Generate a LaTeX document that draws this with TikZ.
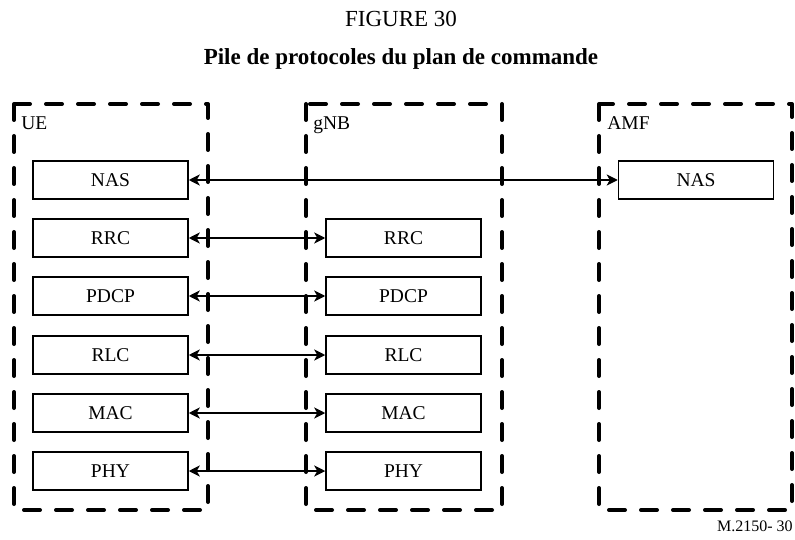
\documentclass[tikz,border=0pt]{standalone}
\usepackage{fontspec}
\setmainfont{Liberation Serif}
\usetikzlibrary{arrows.meta}
\begin{document}
\begin{tikzpicture}[x=0.5pt,y=-0.5pt,
  grp/.style={draw,line width=2pt,dash pattern=on 8pt off 8pt,line cap=round,line join=round},
  layer/.style={draw,line width=0.75pt,minimum width=77.5pt,minimum height=19pt,inner sep=0pt,font=\fontsize{9.75}{12}\selectfont},
  lbl/.style={anchor=base west,inner sep=0pt,font=\fontsize{9.75}{12}\selectfont},
  ttl/.style={anchor=base,inner sep=0pt,font=\fontsize{11.5}{13}\selectfont},
  link/.style={line width=1pt,{Stealth[length=5.5pt,width=5.5pt,inset=1.5pt]}-{Stealth[length=5.5pt,width=5.5pt,inset=1.5pt]}}]
\useasboundingbox (0,0) rectangle (795,539);
% titles
\node[ttl] (t1) at (401,27) {FIGURE 30};
\node[ttl,font=\fontsize{11.5}{13}\selectfont\bfseries] (t2) at (401,65) {Pile de protocoles du plan de commande};
% groups
\draw[grp] (14,104) rectangle (208,510);
\draw[grp] (306,104) rectangle (502,510);
\draw[grp] (599,104) rectangle (792,510);
\node[lbl] (ue) at (21,130) {UE};
\node[lbl] (gnb) at (313,130) {gNB};
\node[lbl] (amf) at (607,130) {AMF};
% layers
\node[layer] (uenas) at (110.5,180) {NAS};
\node[layer] (uerrc) at (110.5,238) {RRC};
\node[layer] (uepdcp) at (110.5,296) {PDCP};
\node[layer] (uerlc) at (110.5,355) {RLC};
\node[layer] (uemac) at (110.5,413) {MAC};
\node[layer] (uephy) at (110.5,471) {PHY};
\node[layer] (grrc) at (403.5,238) {RRC};
\node[layer] (gpdcp) at (403.5,296) {PDCP};
\node[layer] (grlc) at (403.5,355) {RLC};
\node[layer] (gmac) at (403.5,413) {MAC};
\node[layer] (gphy) at (403.5,471) {PHY};
\node[layer] (anas) at (696,180) {NAS};
% links
\draw[link] (uenas) -- (anas);
\draw[link] (uerrc) -- (grrc);
\draw[link] (uepdcp) -- (gpdcp);
\draw[link] (uerlc) -- (grlc);
\draw[link] (uemac) -- (gmac);
\draw[link] (uephy) -- (gphy);
\node[anchor=base east,inner sep=0pt,font=\fontsize{8}{9}\selectfont] (ref) at (793,531) {M.2150- 30};
\end{tikzpicture}
\end{document}
